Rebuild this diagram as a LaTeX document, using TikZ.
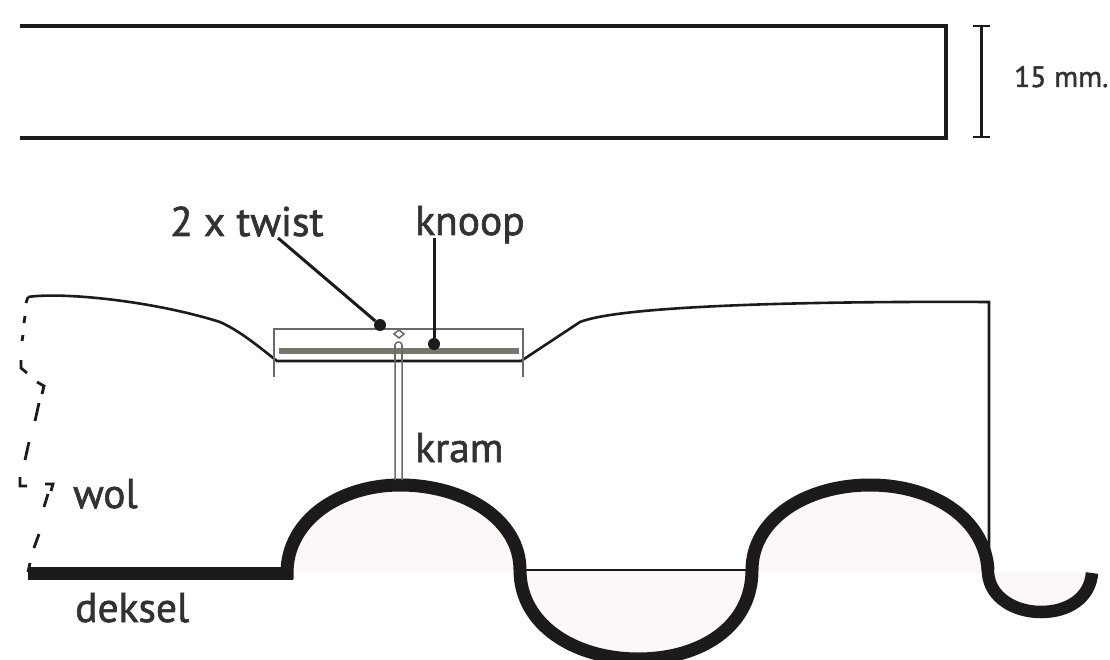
\documentclass[tikz,border=0pt]{standalone}
\usepackage{fontspec}
\setmainfont{PT Sans}[FakeBold=1.5]
\definecolor{ink}{HTML}{1C1A1B}
\definecolor{blush}{HTML}{FCF8F7}
\definecolor{bar}{HTML}{76776B}
\definecolor{thin}{HTML}{6A6A6A}
\tikzset{
  label/.style={inner sep=0pt,anchor=base west,text=ink!90,font=\fontsize{41.5}{44}\selectfont},
  small/.style={inner sep=0pt,anchor=base west,text=ink!90,font=\fontsize{29.5}{32}\selectfont},
  body/.style={draw=ink,line width=2.6pt},
  frame/.style={draw=ink,line width=3.2pt},
  leader/.style={draw=ink,line width=3pt},
  metal/.style={draw=ink,line width=13pt,line cap=butt},
  hair/.style={draw=thin,line width=1.5pt},
  wool/.style={draw=ink,line width=2.8pt},
  dot/.style={circle,fill=ink,inner sep=0pt,minimum size=12pt}
}
\begin{document}
\begin{tikzpicture}[x=1pt,y=-1pt]
\useasboundingbox (0,0) rectangle (1110,660);
\fill[white] (0,0) rectangle (1110,660);
\draw[frame] (20,26) -- (946,26) -- (946,138) -- (20,138);
\draw[line width=3pt,draw=ink] (981,26) -- (981,137);
\draw[line width=2.6pt,draw=ink] (973,26) -- (990,26) (973,137) -- (990,137);
\node[small] (dim) at (1014,87) {15 mm.};
\fill[blush] (287,573) .. controls (287,520) and (340,485) .. (400,485)
  .. controls (465,485) and (520,520) .. (520,573) -- cycle;
\fill[blush] (520,570) .. controls (520,625) and (575,659) .. (638,659)
  .. controls (703,659) and (752,625) .. (752,570) -- cycle;
\fill[blush] (752,573) .. controls (752,520) and (805,485) .. (870,485)
  .. controls (935,485) and (985,520) .. (988,573) -- cycle;
\fill[blush] (992,573) .. controls (994,598) and (1015,612) .. (1041,612)
  .. controls (1068,612) and (1090,598) .. (1092,573) -- cycle;
\draw[body] (28,297) .. controls (60,292) and (150,300) .. (220,322)
  .. controls (240,331) and (258,346) .. (277,361) -- (521,361)
  -- (580,322) .. controls (620,306) and (800,301) .. (989,302) -- (989,548);
\draw[wool] (28,297) -- (26,303)
  (25,316) -- (24,323) (23,335) -- (22,341)
  (21,360) -- (21,368) -- (27,373)
  (37,382) -- (44,386) -- (42,394)
  (39,403) -- (35,421) (29,442) -- (25,460)
  (20,477) -- (20,486) -- (27,486)
  (45,484) -- (53,484) -- (51,491)
  (48,494) -- (44,507) (39,534) -- (34,548) (30,563) -- (28,572);
\draw[metal] (28,573) -- (293,573);
\draw[metal] (287,579) -- (287,573) .. controls (287,520) and (340,485) .. (400,485)
  .. controls (465,485) and (520,520) .. (520,570)
  .. controls (520,625) and (575,659) .. (638,659)
  .. controls (703,659) and (752,625) .. (752,570)
  .. controls (752,520) and (805,485) .. (870,485)
  .. controls (935,485) and (985,520) .. (988,570);
\draw[metal,line width=12.5pt] (987,562) .. controls (988,568) and (988,570) .. (988,573)
  .. controls (990,598) and (1015,612) .. (1041,612)
  .. controls (1068,612) and (1090,598) .. (1092,573);
\draw[draw=ink,line width=2.2pt] (525,570) -- (748,570);
\draw[hair] (395,480) -- (395,345) .. controls (395,341) and (402,341) .. (402,345) -- (402,480);
\draw[hair,fill=white] (394,334) -- (399,330) -- (404,334) -- (399,338) -- cycle;
\draw[hair] (274,377) -- (274,329) -- (523,329) -- (523,377);
\fill[bar] (279,348) rectangle (519,354);
\draw[hair] (395,345) -- (395,361) (402,345) -- (402,361);
\node[label] (twist) at (170,236) {2 x twist};
\node[label] (knoop) at (415,235) {knoop};
\node[label] (kram) at (415,462) {kram};
\node[label] (wol) at (73,508) {wol};
\node[label] (deksel) at (75,622) {deksel};
\node[dot] (d1) at (380,325) {};
\node[dot] (d2) at (434,344) {};
\coordinate (s1) at (278,238);
\coordinate (s2) at (434,238);
\draw[leader] (s1) -- (d1);
\draw[leader] (s2) -- (d2);
\end{tikzpicture}
\end{document}
